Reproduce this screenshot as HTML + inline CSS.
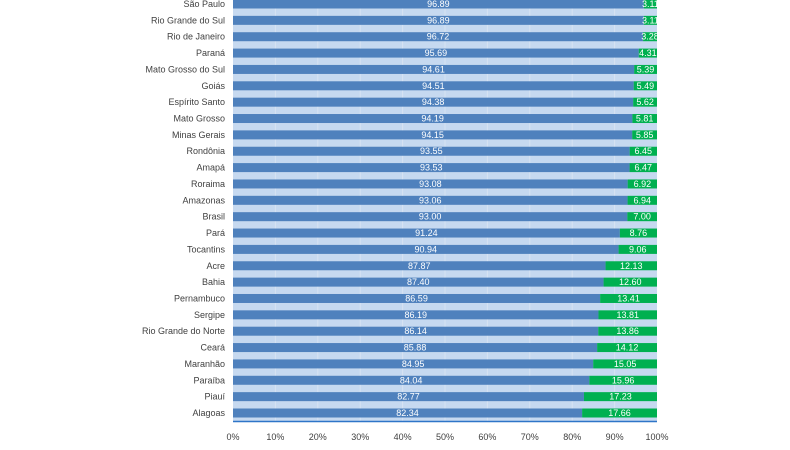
<!DOCTYPE html>
<html><head><meta charset="utf-8"><style>
body{margin:0;background:#fff;width:790px;height:445px;overflow:hidden;font-family:"Liberation Sans",sans-serif}
svg text{font-family:"Liberation Sans",sans-serif}
</style></head><body>
<svg id="chart" width="790" height="445" xmlns="http://www.w3.org/2000/svg"></svg>
<script>
const categories=["São Paulo","Rio Grande do Sul","Rio de Janeiro","Paraná","Mato Grosso do Sul","Goiás","Espírito Santo","Mato Grosso","Minas Gerais","Rondônia","Amapá","Roraima","Amazonas","Brasil","Pará","Tocantins","Acre","Bahia","Pernambuco","Sergipe","Rio Grande do Norte","Ceará","Maranhão","Paraíba","Piauí","Alagoas"];
const blueValues=[96.89,96.89,96.72,95.69,94.61,94.51,94.38,94.19,94.15,93.55,93.53,93.08,93.06,93.00,91.24,90.94,87.87,87.40,86.59,86.19,86.14,85.88,84.95,84.04,82.77,82.34];
const greenValues=[3.11,3.11,3.28,4.31,5.39,5.49,5.62,5.81,5.85,6.45,6.47,6.92,6.94,7.00,8.76,9.06,12.13,12.60,13.41,13.81,13.86,14.12,15.05,15.96,17.23,17.66];
const tickLabels=["0%","10%","20%","30%","40%","50%","60%","70%","80%","90%","100%"];
const tickValues=[0,10,20,30,40,50,60,70,80,90,100];
const svg=document.getElementById('chart');
const NS='http://www.w3.org/2000/svg';
const x0=233,x1=657,yTop=4,step=(413-4)/(categories.length-1),bh=9;
const x=v=>x0+(x1-x0)*v/100;
const y=i=>yTop+i*step;
function mk(t,a){const e=document.createElementNS(NS,t);for(const k in a)e.setAttribute(k,a[k]);svg.appendChild(e);return e;}
let bg=mk('rect',{x:x0,y:0,width:x1-x0,height:421,fill:'#c6d9f0'});


tickValues.forEach((v,i)=>{
 if(i>0&&i<10){let g=mk('line',{x1:x(v),x2:x(v),y1:0,y2:421,stroke:'#d7e3f2','stroke-width':1});
 
 }
 let t=mk('text',{x:x(v),y:440,'font-size':9,fill:'#404040','text-anchor':'middle'});
 t.textContent=tickLabels[i];
 
 
});
categories.forEach((c,i)=>{
 const cy=y(i);
 let l=mk('text',{x:225,y:cy+3,'font-size':9,fill:'#404040','text-anchor':'end'});
 l.textContent=c;
 
 
 let b=mk('rect',{x:x(0),y:cy-bh/2,width:x(blueValues[i])-x(0),height:bh,fill:'#4f81bd'});
 
 
 let g=mk('rect',{x:x(blueValues[i]),y:cy-bh/2,width:x(blueValues[i]+greenValues[i])-x(blueValues[i]),height:bh,fill:'#00b050'});
 
 
 let bt=mk('text',{x:(x(0)+x(blueValues[i]))/2,y:cy+3,'font-size':9,fill:'#fff','text-anchor':'middle'});
 bt.textContent=blueValues[i].toFixed(2);
 
 
 let gt=mk('text',{x:(x(blueValues[i])+x(100))/2,y:cy+3,'font-size':9,fill:'#fff','text-anchor':'middle'});
 gt.textContent=greenValues[i].toFixed(2);
 
 
});
let ax=mk('line',{x1:x0,x2:x1,y1:421.5,y2:421.5,stroke:'#2e75c8','stroke-width':1.5});


</script>
</body></html>
